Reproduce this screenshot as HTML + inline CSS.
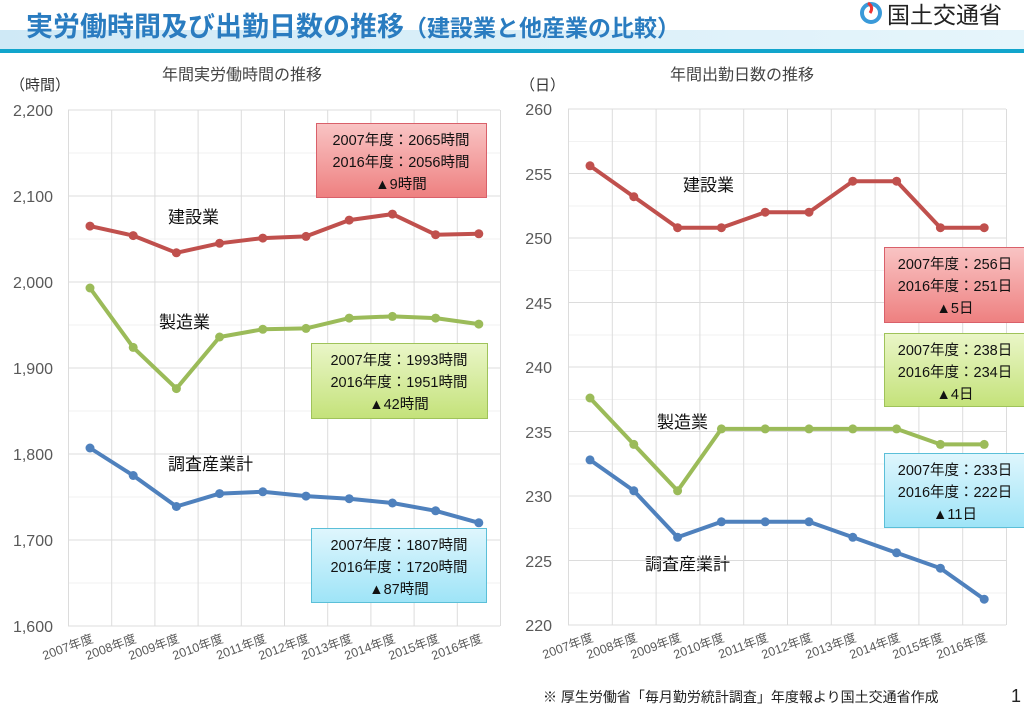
<!DOCTYPE html>
<html><head><meta charset="utf-8"><style>
body{margin:0;width:1024px;height:715px;background:#fff;overflow:hidden;font-family:"Liberation Sans","Noto Sans CJK JP",sans-serif}
</style></head><body>
<svg width="1024" height="715" xmlns="http://www.w3.org/2000/svg" font-family="Liberation Sans, Noto Sans CJK JP, sans-serif">
<defs>
<linearGradient id="hb" x1="0" x2="1"><stop offset="0" stop-color="#cfe9f6"/><stop offset="1" stop-color="#e6f5fb"/></linearGradient>
<linearGradient id="rb" x1="0" y1="0" x2="0" y2="1"><stop offset="0" stop-color="#f9c4c4"/><stop offset="1" stop-color="#ee8080"/></linearGradient>
<linearGradient id="gb" x1="0" y1="0" x2="0" y2="1"><stop offset="0" stop-color="#eaf6c8"/><stop offset="1" stop-color="#c4e27a"/></linearGradient>
<linearGradient id="cb" x1="0" y1="0" x2="0" y2="1"><stop offset="0" stop-color="#dff6fd"/><stop offset="1" stop-color="#9ee4f7"/></linearGradient>
</defs>
<rect x="0" y="30" width="1024" height="19" fill="url(#hb)"/>
<rect x="0" y="49" width="1024" height="4" fill="#12a5cc"/>
<text x="26" y="36" font-size="27" font-weight="bold" fill="#2a7cc0">実労働時間及び出勤日数の推移<tspan font-size="23">（建設業と他産業の比較）</tspan></text>
<circle cx="871" cy="13" r="9" fill="none" stroke="#3a9ad9" stroke-width="4"/>
<path d="M868 3 q6 4 2 10" stroke="#e33" stroke-width="3" fill="none"/>
<text x="887" y="23" font-size="23" fill="#222">国土交通省</text>

<g font-size="16" fill="#555">
<text x="10" y="90" font-size="15" fill="#333">（時間）</text>
<text x="162" y="80" fill="#444">年間実労働時間の推移</text>
<text x="520" y="90" font-size="15" fill="#333">（日）</text>
<text x="670" y="80" fill="#444">年間出勤日数の推移</text>
</g>

<!-- left grid -->
<g stroke="#f2f2f2" stroke-width="1">
<line x1="68" x2="500" y1="153" y2="153"/><line x1="68" x2="500" y1="239" y2="239"/><line x1="68" x2="500" y1="325" y2="325"/><line x1="68" x2="500" y1="411" y2="411"/><line x1="68" x2="500" y1="497" y2="497"/><line x1="68" x2="500" y1="583" y2="583"/>
</g>
<g stroke="#dcdcdc" stroke-width="1">
<line x1="68" x2="500" y1="110" y2="110"/><line x1="68" x2="500" y1="196" y2="196"/><line x1="68" x2="500" y1="282" y2="282"/><line x1="68" x2="500" y1="368" y2="368"/><line x1="68" x2="500" y1="454" y2="454"/><line x1="68" x2="500" y1="540" y2="540"/><line x1="68" x2="500" y1="626" y2="626"/>
<line x1="68.5" x2="68.5" y1="110" y2="626"/><line x1="111.7" x2="111.7" y1="110" y2="626"/><line x1="154.9" x2="154.9" y1="110" y2="626"/><line x1="198.1" x2="198.1" y1="110" y2="626"/><line x1="241.3" x2="241.3" y1="110" y2="626"/><line x1="284.5" x2="284.5" y1="110" y2="626"/><line x1="327.7" x2="327.7" y1="110" y2="626"/><line x1="370.9" x2="370.9" y1="110" y2="626"/><line x1="414.1" x2="414.1" y1="110" y2="626"/><line x1="457.3" x2="457.3" y1="110" y2="626"/><line x1="500.5" x2="500.5" y1="110" y2="626"/>
</g>
<g font-size="16" fill="#595959" text-anchor="end">
<text x="53" y="116">2,200</text><text x="53" y="202">2,100</text><text x="53" y="288">2,000</text><text x="53" y="374">1,900</text><text x="53" y="460">1,800</text><text x="53" y="546">1,700</text><text x="53" y="632">1,600</text>
</g>
<g font-size="12.5" fill="#595959" text-anchor="end">
<text transform="translate(94,642) rotate(-20)">2007年度</text><text transform="translate(137,642) rotate(-20)">2008年度</text><text transform="translate(180,642) rotate(-20)">2009年度</text><text transform="translate(224,642) rotate(-20)">2010年度</text><text transform="translate(267,642) rotate(-20)">2011年度</text><text transform="translate(310,642) rotate(-20)">2012年度</text><text transform="translate(353,642) rotate(-20)">2013年度</text><text transform="translate(396,642) rotate(-20)">2014年度</text><text transform="translate(440,642) rotate(-20)">2015年度</text><text transform="translate(483,642) rotate(-20)">2016年度</text>
</g>
<g fill="none" stroke-width="4" stroke-linejoin="round">
<polyline stroke="#c0504d" points="90,226.1 133.2,235.6 176.4,252.8 219.6,243.3 262.8,238.1 306,236.4 349.2,220.1 392.4,214.1 435.6,234.7 478.8,233.8"/>
<polyline stroke="#9bbb59" points="90,288 133.2,347.4 176.4,388.6 219.6,337 262.8,329.3 306,328.4 349.2,318.1 392.4,316.4 435.6,318.1 478.8,324.1"/>
<polyline stroke="#4f81bd" points="90,448 133.2,475.5 176.4,506.5 219.6,493.6 262.8,491.8 306,496.1 349.2,498.7 392.4,503 435.6,510.8 478.8,522.8"/>
</g>
<g fill="#c0504d"><circle cx="90" cy="226.1" r="4.5"/><circle cx="133.2" cy="235.6" r="4.5"/><circle cx="176.4" cy="252.8" r="4.5"/><circle cx="219.6" cy="243.3" r="4.5"/><circle cx="262.8" cy="238.1" r="4.5"/><circle cx="306" cy="236.4" r="4.5"/><circle cx="349.2" cy="220.1" r="4.5"/><circle cx="392.4" cy="214.1" r="4.5"/><circle cx="435.6" cy="234.7" r="4.5"/><circle cx="478.8" cy="233.8" r="4.5"/></g>
<g fill="#9bbb59"><circle cx="90" cy="288" r="4.5"/><circle cx="133.2" cy="347.4" r="4.5"/><circle cx="176.4" cy="388.6" r="4.5"/><circle cx="219.6" cy="337" r="4.5"/><circle cx="262.8" cy="329.3" r="4.5"/><circle cx="306" cy="328.4" r="4.5"/><circle cx="349.2" cy="318.1" r="4.5"/><circle cx="392.4" cy="316.4" r="4.5"/><circle cx="435.6" cy="318.1" r="4.5"/><circle cx="478.8" cy="324.1" r="4.5"/></g>
<g fill="#4f81bd"><circle cx="90" cy="448" r="4.5"/><circle cx="133.2" cy="475.5" r="4.5"/><circle cx="176.4" cy="506.5" r="4.5"/><circle cx="219.6" cy="493.6" r="4.5"/><circle cx="262.8" cy="491.8" r="4.5"/><circle cx="306" cy="496.1" r="4.5"/><circle cx="349.2" cy="498.7" r="4.5"/><circle cx="392.4" cy="503" r="4.5"/><circle cx="435.6" cy="510.8" r="4.5"/><circle cx="478.8" cy="522.8" r="4.5"/></g>
<g font-size="17" fill="#111">
<text x="168" y="223">建設業</text><text x="159" y="328">製造業</text><text x="168" y="470">調査産業計</text>
<text x="683" y="191">建設業</text><text x="657" y="428">製造業</text><text x="645" y="570">調査産業計</text>
</g>

<!-- right grid -->
<g stroke="#f2f2f2" stroke-width="1">
<line x1="568" x2="1006" y1="141.5" y2="141.5"/><line x1="568" x2="1006" y1="206" y2="206"/><line x1="568" x2="1006" y1="270.5" y2="270.5"/><line x1="568" x2="1006" y1="335" y2="335"/><line x1="568" x2="1006" y1="399.5" y2="399.5"/><line x1="568" x2="1006" y1="464" y2="464"/><line x1="568" x2="1006" y1="528.5" y2="528.5"/><line x1="568" x2="1006" y1="593" y2="593"/>
</g>
<g stroke="#dcdcdc" stroke-width="1">
<line x1="568" x2="1006" y1="109" y2="109"/><line x1="568" x2="1006" y1="173.5" y2="173.5"/><line x1="568" x2="1006" y1="238" y2="238"/><line x1="568" x2="1006" y1="302.5" y2="302.5"/><line x1="568" x2="1006" y1="367" y2="367"/><line x1="568" x2="1006" y1="431.5" y2="431.5"/><line x1="568" x2="1006" y1="496" y2="496"/><line x1="568" x2="1006" y1="560.5" y2="560.5"/><line x1="568" x2="1006" y1="625" y2="625"/>
<line x1="568.5" x2="568.5" y1="109" y2="625"/><line x1="612.3" x2="612.3" y1="109" y2="625"/><line x1="656.1" x2="656.1" y1="109" y2="625"/><line x1="699.9" x2="699.9" y1="109" y2="625"/><line x1="743.7" x2="743.7" y1="109" y2="625"/><line x1="787.5" x2="787.5" y1="109" y2="625"/><line x1="831.3" x2="831.3" y1="109" y2="625"/><line x1="875.1" x2="875.1" y1="109" y2="625"/><line x1="918.9" x2="918.9" y1="109" y2="625"/><line x1="962.7" x2="962.7" y1="109" y2="625"/><line x1="1006.5" x2="1006.5" y1="109" y2="625"/>
</g>
<g font-size="16" fill="#595959" text-anchor="end">
<text x="552" y="115">260</text><text x="552" y="180">255</text><text x="552" y="244">250</text><text x="552" y="309">245</text><text x="552" y="373">240</text><text x="552" y="438">235</text><text x="552" y="502">230</text><text x="552" y="567">225</text><text x="552" y="631">220</text>
</g>
<g font-size="12.5" fill="#595959" text-anchor="end">
<text transform="translate(594,641) rotate(-20)">2007年度</text><text transform="translate(638,641) rotate(-20)">2008年度</text><text transform="translate(682,641) rotate(-20)">2009年度</text><text transform="translate(725,641) rotate(-20)">2010年度</text><text transform="translate(769,641) rotate(-20)">2011年度</text><text transform="translate(813,641) rotate(-20)">2012年度</text><text transform="translate(857,641) rotate(-20)">2013年度</text><text transform="translate(901,641) rotate(-20)">2014年度</text><text transform="translate(944,641) rotate(-20)">2015年度</text><text transform="translate(988,641) rotate(-20)">2016年度</text>
</g>
<g fill="none" stroke-width="4" stroke-linejoin="round">
<polyline stroke="#c0504d" points="590,165.8 633.8,196.7 677.6,227.7 721.4,227.7 765.2,212.2 809,212.2 852.8,181.2 896.6,181.2 940.4,227.7 984.2,227.7"/>
<polyline stroke="#9bbb59" points="590,398 633.8,444.4 677.6,490.8 721.4,428.9 765.2,428.9 809,428.9 852.8,428.9 896.6,428.9 940.4,444.4 984.2,444.4"/>
<polyline stroke="#4f81bd" points="590,459.9 633.8,490.8 677.6,537.3 721.4,521.8 765.2,521.8 809,521.8 852.8,537.3 896.6,552.8 940.4,568.2 984.2,599.2"/>
</g>
<g fill="#c0504d"><circle cx="590" cy="165.8" r="4.5"/><circle cx="633.8" cy="196.7" r="4.5"/><circle cx="677.6" cy="227.7" r="4.5"/><circle cx="721.4" cy="227.7" r="4.5"/><circle cx="765.2" cy="212.2" r="4.5"/><circle cx="809" cy="212.2" r="4.5"/><circle cx="852.8" cy="181.2" r="4.5"/><circle cx="896.6" cy="181.2" r="4.5"/><circle cx="940.4" cy="227.7" r="4.5"/><circle cx="984.2" cy="227.7" r="4.5"/></g>
<g fill="#9bbb59"><circle cx="590" cy="398" r="4.5"/><circle cx="633.8" cy="444.4" r="4.5"/><circle cx="677.6" cy="490.8" r="4.5"/><circle cx="721.4" cy="428.9" r="4.5"/><circle cx="765.2" cy="428.9" r="4.5"/><circle cx="809" cy="428.9" r="4.5"/><circle cx="852.8" cy="428.9" r="4.5"/><circle cx="896.6" cy="428.9" r="4.5"/><circle cx="940.4" cy="444.4" r="4.5"/><circle cx="984.2" cy="444.4" r="4.5"/></g>
<g fill="#4f81bd"><circle cx="590" cy="459.9" r="4.5"/><circle cx="633.8" cy="490.8" r="4.5"/><circle cx="677.6" cy="537.3" r="4.5"/><circle cx="721.4" cy="521.8" r="4.5"/><circle cx="765.2" cy="521.8" r="4.5"/><circle cx="809" cy="521.8" r="4.5"/><circle cx="852.8" cy="537.3" r="4.5"/><circle cx="896.6" cy="552.8" r="4.5"/><circle cx="940.4" cy="568.2" r="4.5"/><circle cx="984.2" cy="599.2" r="4.5"/></g>

<!-- boxes -->
<g font-size="14.5" fill="#111" text-anchor="middle">
<rect x="316.5" y="123.5" width="170" height="74" fill="url(#rb)" stroke="#d9606a"/>
<text x="401" y="145">2007年度：2065時間</text><text x="401" y="167">2016年度：2056時間</text><text x="401" y="189">▲9時間</text>
<rect x="311.5" y="343.5" width="176" height="75" fill="url(#gb)" stroke="#9fc35a"/>
<text x="399" y="365">2007年度：1993時間</text><text x="399" y="387">2016年度：1951時間</text><text x="399" y="409">▲42時間</text>
<rect x="311.5" y="528.5" width="175" height="74" fill="url(#cb)" stroke="#5bbfd8"/>
<text x="399" y="550">2007年度：1807時間</text><text x="399" y="572">2016年度：1720時間</text><text x="399" y="594">▲87時間</text>
<rect x="884.5" y="247.5" width="142" height="75" fill="url(#rb)" stroke="#d9606a"/>
<text x="955" y="269">2007年度：256日</text><text x="955" y="291">2016年度：251日</text><text x="955" y="313">▲5日</text>
<rect x="884.5" y="333.5" width="142" height="73" fill="url(#gb)" stroke="#9fc35a"/>
<text x="955" y="355">2007年度：238日</text><text x="955" y="377">2016年度：234日</text><text x="955" y="399">▲4日</text>
<rect x="884.5" y="453.5" width="142" height="74" fill="url(#cb)" stroke="#5bbfd8"/>
<text x="955" y="475">2007年度：233日</text><text x="955" y="497">2016年度：222日</text><text x="955" y="519">▲11日</text>
</g>
<text x="543" y="702" font-size="14" fill="#222">※  厚生労働省「毎月勤労統計調査」年度報より国土交通省作成</text>
<text x="1011" y="702" font-size="18" fill="#222">1</text>
</svg>
</body></html>
